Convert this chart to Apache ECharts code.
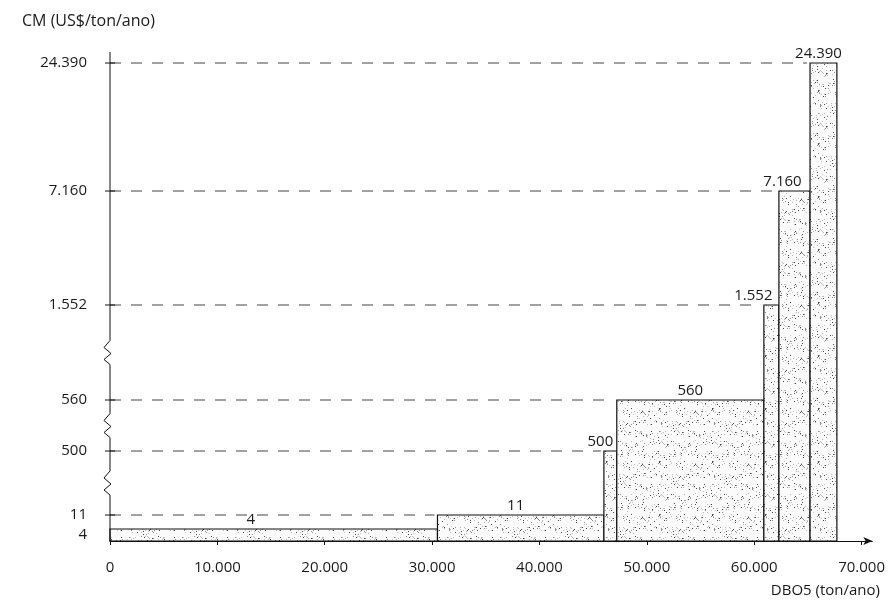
<!DOCTYPE html>
<html>
<head>
<meta charset="utf-8">
<script src="https://cdn.jsdelivr.net/npm/echarts@6/dist/echarts.min.js"></script>
<style>html,body{margin:0;padding:0;background:#fff;}#c{width:888px;height:615px;}</style>
</head>
<body>
<div id="c"></div>
<script>
// ---- data ----
const xEdges = [0, 30500, 46000, 47200, 60900, 62300, 65200, 67700];   // cumulative DBO5 (ton/ano)
const costValues = [4, 11, 500, 560, 1552, 7160, 24390];                // CM (US$/ton/ano)
const costLabels = ['4', '11', '500', '560', '1.552', '7.160', '24.390'];
// position of each cost level on the broken (non-linear) vertical axis
const costLevelPos = [12, 26, 90, 141, 236, 350, 478];
const xTicks = [0, 10000, 20000, 30000, 40000, 50000, 60000, 70000];
const xTickLabels = ['0', '10.000', '20.000', '30.000', '40.000', '50.000', '60.000', '70.000'];
const yBreaks = [[11, 500], [500, 560], [560, 1552]];

// ---- styles ----
const FONT = '15px "Open Sans"';
const TXT = '#1a1a1a';
const labelDx = [-23, -5, -10, 0, -18, -12, -5];

function posOf(v) { return costLevelPos[costValues.indexOf(v)]; }

// stipple pattern (decorative texture)
const PS = 53;
const pc = document.createElement('canvas');
pc.width = PS; pc.height = PS;
const g = pc.getContext('2d');
g.fillStyle = '#fbfbfb'; g.fillRect(0, 0, PS, PS);
for (let i = 0; i < 240; i++) {
  const x = (i * 37 + (i * i * 13) % 11) % PS;
  const y = (i * 23 + (i * 7) % 17 + Math.floor(i / PS) * 5) % PS;
  g.fillStyle = i % 4 === 0 ? '#444' : (i % 4 === 1 ? '#8c8c8c' : '#bababa');
  g.fillRect(x, y, 1, 1);
}
const pattern = { image: pc, repeat: 'repeat' };

const barData = costValues.map((v, i) => [xEdges[i], xEdges[i + 1], posOf(v)]);
const guideData = costValues.map((v, i) => [xEdges[i], posOf(v)]).slice(1);

const chart = echarts.init(document.getElementById('c'), null, { renderer: 'canvas' });
chart.setOption({
  animation: false,
  backgroundColor: '#fff',
  grid: { left: 110, right: 15, top: 52, bottom: 74 },
  graphic: [
    { type: 'text', left: 22, top: 13, style: { text: 'CM (US$/ton/ano)', font: '16px "Open Sans"', fill: TXT } },
    { type: 'text', right: 8, top: 583, style: { text: 'DBO5 (ton/ano)', font: FONT, fill: TXT } }
  ],
  xAxis: {
    type: 'value', min: 0, max: 71000,
    axisLine: { show: true, lineStyle: { color: '#111', width: 1 }, symbol: ['none', 'arrow'], symbolSize: [6, 9] },
    axisTick: { show: true, customValues: xTicks, length: 4, lineStyle: { color: '#111' } },
    axisLabel: {
      customValues: xTicks, margin: 19, fontSize: 15, fontFamily: 'Open Sans', color: TXT,
      formatter: v => xTickLabels[xTicks.indexOf(v)]
    },
    splitLine: { show: false }
  },
  yAxis: {
    type: 'value', min: 0, max: 489,
    axisLine: { show: false },
    axisTick: { show: false },
    axisLabel: {
      customValues: costLevelPos, margin: 23, fontSize: 15, fontFamily: 'Open Sans', color: TXT,
      hideOverlap: false,
      formatter: v => {
        const i = costLevelPos.indexOf(v);
        return i === 0 ? '{low|' + costLabels[i] + '}' : costLabels[i];
      },
      rich: { low: { fontSize: 15, fontFamily: 'Open Sans', color: TXT, padding: [12, 0, 0, 0] } }
    },
    splitLine: { show: false }
  },
  series: [
    {
      type: 'custom', name: 'guides', z: 1, silent: true,
      data: guideData,
      renderItem(params, api) {
        const a = api.coord([0, api.value(1)]);
        const b = api.coord([api.value(0), api.value(1)]);
        return {
          type: 'line',
          shape: { x1: a[0], y1: a[1], x2: b[0] - 3, y2: b[1] },
          style: { stroke: '#444', lineWidth: 1, lineDash: [11, 10] }
        };
      }
    },
    {
      type: 'custom', name: 'CM', z: 3, silent: true,
      data: barData,
      renderItem(params, api) {
        const i = params.dataIndex;
        const a = api.coord([api.value(0), 0]);
        const b = api.coord([api.value(1), api.value(2)]);
        return {
          type: 'group',
          children: [
            {
              type: 'rect',
              shape: { x: a[0], y: b[1], width: b[0] - a[0], height: a[1] - b[1] },
              style: { fill: pattern, stroke: '#111', lineWidth: 1.2 }
            },
            {
              type: 'text',
              style: {
                text: costLabels[i], x: (a[0] + b[0]) / 2 + labelDx[i], y: b[1] - 2,
                align: 'center', verticalAlign: 'bottom', font: FONT, fill: TXT
              }
            }
          ]
        };
      }
    },
    {
      type: 'custom', name: 'yaxis', z: 4, silent: true,
      data: [[0]],
      renderItem(params, api) {
        const base = api.coord([0, 0]);
        const top = api.coord([0, 489]);
        const ax = base[0];
        const breaksPx = yBreaks.map(([lo, hi]) => api.coord([0, (posOf(lo) + posOf(hi)) / 2])[1]).sort((p, q) => q - p);
        const pts = [[ax, base[1]]];
        breaksPx.forEach(yc => {
          pts.push([ax, yc + 12], [ax - 6, yc + 7], [ax + 1, yc + 1], [ax - 6, yc - 5], [ax, yc - 12]);
        });
        pts.push([ax, top[1]]);
        const children = [{ type: 'polyline', shape: { points: pts }, style: { stroke: '#111', lineWidth: 1, fill: null } }];
        costValues.slice(1).forEach(v => {
          const y = api.coord([0, posOf(v)])[1];
          children.push({ type: 'line', shape: { x1: ax - 5, y1: y, x2: ax + 5, y2: y }, style: { stroke: '#111', lineWidth: 1 } });
        });
        return { type: 'group', children };
      }
    }
  ]
});
</script>
</body>
</html>
